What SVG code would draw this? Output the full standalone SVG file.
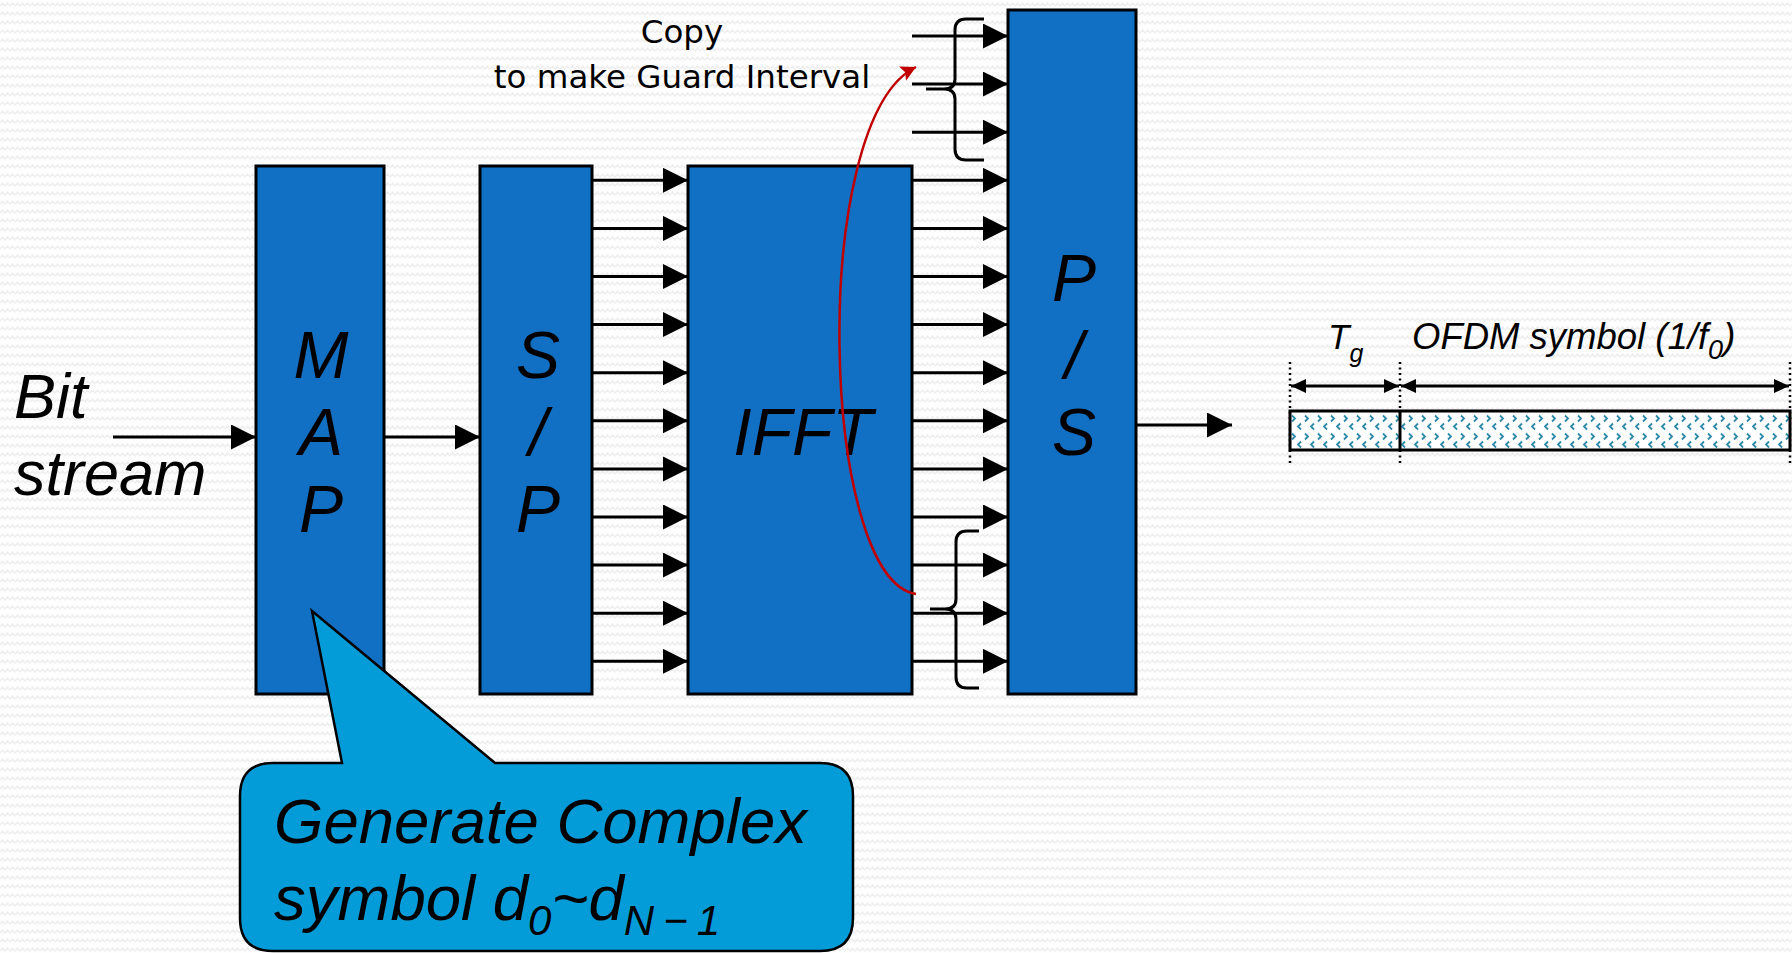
<svg xmlns="http://www.w3.org/2000/svg" width="1792" height="953" viewBox="0 0 1792 953">
  <defs>
    <style>
      .box { fill: #1170C4; stroke: #000; stroke-width: 3; }
      .lbl { font-family: "Liberation Sans", Arial, sans-serif; font-style: italic; fill: #000; }
      .big { font-size: 66px; text-anchor: middle; }
      .wire { stroke: #000; stroke-width: 3; fill: none; marker-end: url(#head); }
      .brace { stroke: #000; stroke-width: 3; fill: none; }
      .dots { stroke: #000; stroke-width: 2.5; stroke-dasharray: 2 3.5; fill: none; }
      .dim { stroke: #000; stroke-width: 3; fill: none; marker-start: url(#dimL); marker-end: url(#dimR); }
      .note { font-family: "DejaVu Sans", Verdana, sans-serif; font-size: 32.5px; fill: #000; text-anchor: middle; }
    </style>
    <!-- faint paper texture -->
    <pattern id="paper" width="10" height="9" patternUnits="userSpaceOnUse">
      <rect width="10" height="9" fill="#fefefe"/>
      <polyline points="0,6 2.5,3 5,6 7.5,3 10,6" fill="none" stroke="#eeeeee" stroke-width="1.3"/>
    </pattern>
    <!-- chevron fill for the symbol bar -->
    <pattern id="chev" x="1290" y="411" width="13" height="18" patternUnits="userSpaceOnUse">
      <rect width="13" height="18" fill="#ffffff"/>
      <polyline points="2,4.5 5,7.5 2,10.5" fill="none" stroke="#2C8AA8" stroke-width="1.8"/>
      <polyline points="11,12.5 8,15.5 11,18.5" fill="none" stroke="#2C8AA8" stroke-width="1.8"/>
      <polyline points="11,-5.5 8,-2.5 11,0.5" fill="none" stroke="#2C8AA8" stroke-width="1.8"/>
    </pattern>
    <marker id="head" markerUnits="userSpaceOnUse" markerWidth="26" markerHeight="26" refX="25" refY="12.5" orient="auto">
      <path d="M0,0 L25,12.5 L0,25 Z" fill="#000"/>
    </marker>
    <marker id="redhead" markerUnits="userSpaceOnUse" markerWidth="18" markerHeight="18" refX="15" refY="8" orient="auto">
      <path d="M0,0 L15,8 L0,16 L3,8 Z" fill="#C00000"/>
    </marker>
    <marker id="dimR" markerUnits="userSpaceOnUse" markerWidth="16" markerHeight="16" refX="15" refY="7" orient="auto">
      <path d="M0,0 L15,7 L0,14 Z" fill="#000"/>
    </marker>
    <marker id="dimL" markerUnits="userSpaceOnUse" markerWidth="16" markerHeight="16" refX="0" refY="7" orient="auto">
      <path d="M15,0 L0,7 L15,14 Z" fill="#000"/>
    </marker>
  </defs>

  <rect width="1792" height="953" fill="url(#paper)"/>

  <!-- input label -->
  <g id="bitstream">
    <text class="lbl" x="14" y="418" font-size="63">Bit</text>
    <text class="lbl" x="14" y="495" font-size="63">stream</text>
  </g>

  <g id="map">
    <rect class="box" x="256" y="166" width="128" height="528"/>
    <text class="lbl big" x="321" y="378">M</text>
    <text class="lbl big" x="321" y="455">A</text>
    <text class="lbl big" x="321" y="532">P</text>
  </g>

  <g id="sp">
    <rect class="box" x="480" y="166" width="112" height="528"/>
    <text class="lbl big" x="538" y="378">S</text>
    <text class="lbl big" x="538" y="455">/</text>
    <text class="lbl big" x="538" y="532">P</text>
  </g>

  <g id="ifft">
    <rect class="box" x="688" y="166" width="224" height="528"/>
    <text class="lbl big" x="803" y="455">IFFT</text>
  </g>

  <g id="ps">
    <rect class="box" x="1008" y="10" width="128" height="684"/>
    <text class="lbl big" x="1074" y="301">P</text>
    <text class="lbl big" x="1074" y="378">/</text>
    <text class="lbl big" x="1074" y="455">S</text>
  </g>

  <g id="connectors">
    <line class="wire" x1="113" y1="437" x2="256" y2="437"/>
    <line class="wire" x1="384" y1="437" x2="480" y2="437"/>
    <!-- S/P to IFFT, 11 lines -->
    <line class="wire" x1="592" y1="180.3" x2="688" y2="180.3"/>
    <line class="wire" x1="592" y1="228.4" x2="688" y2="228.4"/>
    <line class="wire" x1="592" y1="276.5" x2="688" y2="276.5"/>
    <line class="wire" x1="592" y1="324.6" x2="688" y2="324.6"/>
    <line class="wire" x1="592" y1="372.7" x2="688" y2="372.7"/>
    <line class="wire" x1="592" y1="420.8" x2="688" y2="420.8"/>
    <line class="wire" x1="592" y1="468.9" x2="688" y2="468.9"/>
    <line class="wire" x1="592" y1="517" x2="688" y2="517"/>
    <line class="wire" x1="592" y1="565.1" x2="688" y2="565.1"/>
    <line class="wire" x1="592" y1="613.2" x2="688" y2="613.2"/>
    <line class="wire" x1="592" y1="661.3" x2="688" y2="661.3"/>
    <!-- into P/S, 14 lines -->
    <line class="wire" x1="912" y1="36" x2="1008" y2="36"/>
    <line class="wire" x1="912" y1="84.1" x2="1008" y2="84.1"/>
    <line class="wire" x1="912" y1="132.2" x2="1008" y2="132.2"/>
    <line class="wire" x1="912" y1="180.3" x2="1008" y2="180.3"/>
    <line class="wire" x1="912" y1="228.4" x2="1008" y2="228.4"/>
    <line class="wire" x1="912" y1="276.5" x2="1008" y2="276.5"/>
    <line class="wire" x1="912" y1="324.6" x2="1008" y2="324.6"/>
    <line class="wire" x1="912" y1="372.7" x2="1008" y2="372.7"/>
    <line class="wire" x1="912" y1="420.8" x2="1008" y2="420.8"/>
    <line class="wire" x1="912" y1="468.9" x2="1008" y2="468.9"/>
    <line class="wire" x1="912" y1="517" x2="1008" y2="517"/>
    <line class="wire" x1="912" y1="565.1" x2="1008" y2="565.1"/>
    <line class="wire" x1="912" y1="613.2" x2="1008" y2="613.2"/>
    <line class="wire" x1="912" y1="661.3" x2="1008" y2="661.3"/>
    <!-- serial output -->
    <line class="wire" x1="1136" y1="425" x2="1232" y2="425"/>
    <!-- braces grouping the copied samples -->
    <path class="brace" d="M984,19 L966,19 Q955,19 955,30 L955,79 Q955,89 944,89 L926,89 M944,89 Q955,89 955,99 L955,149 Q955,160 966,160 L984,160"/>
    <path class="brace" d="M979,531 L967,531 Q956,531 956,542 L956,599 Q956,609 945,609 L930,609 M945,609 Q956,609 956,619 L956,677 Q956,688 967,688 L979,688"/>
    <!-- copy path for the guard interval -->
    <path d="M916,594 C820,580 808,120 916,67" fill="none" stroke="#C00000" stroke-width="2.5" marker-end="url(#redhead)"/>
  </g>

  <g id="copy-note">
    <text class="note" x="682" y="43">Copy</text>
    <text class="note" x="682" y="88">to make Guard Interval</text>
  </g>

  <g id="symbol-timing">
    <text class="lbl" x="1328" y="349" font-size="35">T<tspan font-size="25" dy="13">g</tspan></text>
    <text class="lbl" x="1412" y="349" font-size="36.5">OFDM symbol (1/f<tspan font-size="27" dy="10">0</tspan><tspan dy="-10">)</tspan></text>
    <line class="dots" x1="1290" y1="362" x2="1290" y2="466"/>
    <line class="dots" x1="1400" y1="362" x2="1400" y2="466"/>
    <line class="dots" x1="1790" y1="362" x2="1790" y2="466"/>
    <line class="dim" x1="1291" y1="386" x2="1399" y2="386"/>
    <line class="dim" x1="1401" y1="386" x2="1789" y2="386"/>
    <rect x="1290" y="411" width="500" height="39" fill="url(#chev)" stroke="#000" stroke-width="3"/>
    <line x1="1400" y1="411" x2="1400" y2="450" stroke="#000" stroke-width="3"/>
  </g>

  <g id="callout">
    <path d="M273,763 L342,763 L312,611 L495,763 L820,763 Q853,763 853,796 L853,918 Q853,951 820,951 L273,951 Q240,951 240,918 L240,796 Q240,763 273,763 Z" fill="#039CD8" stroke="#000" stroke-width="2.5"/>
    <text class="lbl" x="274" y="843" font-size="63.5">Generate Complex</text>
    <text class="lbl" x="274" y="920" font-size="63.5">symbol d<tspan font-size="42" dy="15">0</tspan><tspan dy="-15">~d</tspan><tspan font-size="42" dy="15" letter-spacing="9">N−1</tspan></text>
  </g>
</svg>
